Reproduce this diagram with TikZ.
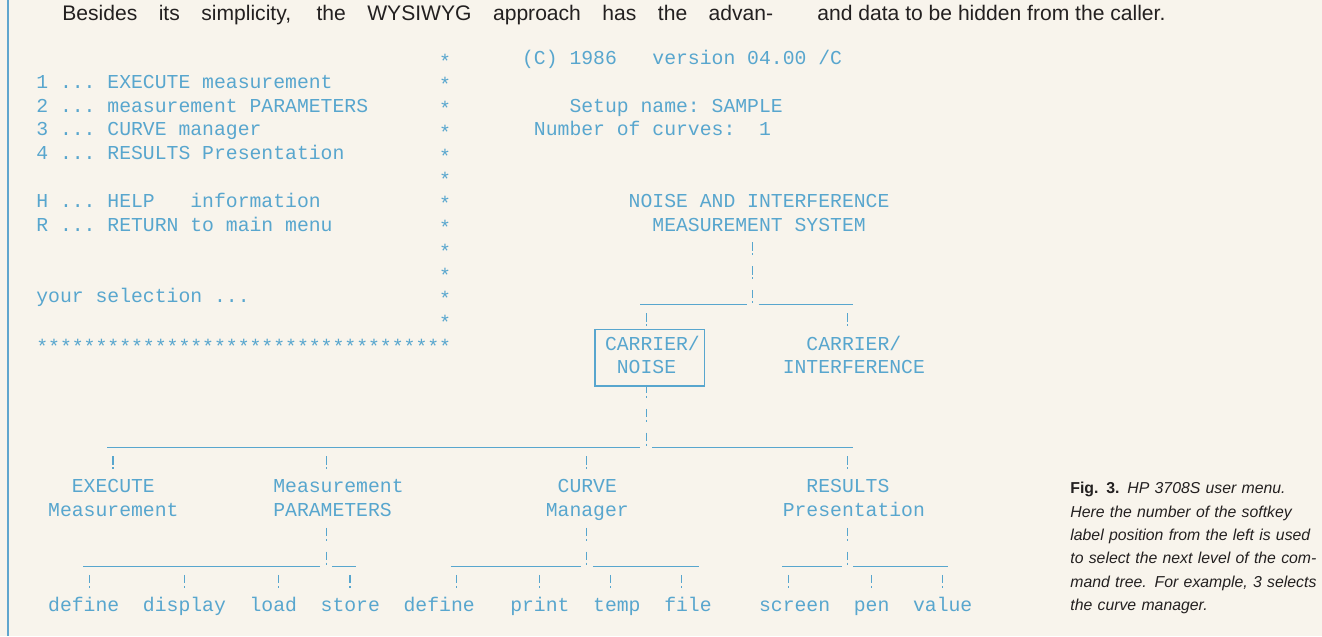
\documentclass[tikz,border=0pt]{standalone}
\usepackage{fontspec}
\setmainfont{Liberation Sans}
\newfontfamily\scrfont{Liberation Mono}
\usetikzlibrary{calc,fit}

\definecolor{paper}{RGB}{248,244,236}
\definecolor{scrblue}{RGB}{88,166,206}
\definecolor{railblue}{RGB}{96,166,206}
\definecolor{ink}{RGB}{35,32,32}

\tikzset{
  scr/.style={font=\scrfont\fontsize{11.24}{13.5}\selectfont\frenchspacing, text=scrblue,
    anchor=base west, inner sep=0pt, text height=0.26cm, text depth=0pt, yshift=-0.13cm},
  star/.style={scr, yshift=-0.07cm},
  bang/.style={draw=scrblue, line width=0.65pt,
    dash pattern=on 0.17cm off 0.05cm on 0.04cm off 0.216cm, dash phase=0.26cm},
  bangbar/.style={bang, dash phase=0.31cm},
  bar/.style={draw=scrblue, line width=0.6pt},
  cbox/.style={draw=scrblue, line width=0.9pt, inner xsep=0.142cm, inner ysep=0.19cm,
    xshift=-0.054cm, yshift=-0.05cm},
  body/.style={anchor=base west, inner sep=0pt, text=ink, font=\fontsize{12}{14}\selectfont},
  caption/.style={anchor=north west, inner sep=0pt, text=ink, text width=4.84cm, align=left,
    font=\fontsize{9}{13.27}\selectfont\itshape}
}

\begin{document}
\begin{tikzpicture}[x=0.02cm, y=-0.02cm]
  \useasboundingbox (0,0) rectangle (1322,636);
  \fill[paper] (0,0) rectangle (1322,636);
  \draw[railblue, line width=0.06cm] (8,0) -- (8,636);

  % running text and caption
  \node[body] (hd1) at (62,20) {\makebox[14.22cm][s]{Besides its simplicity, the WYSIWYG approach has the advan-}};
  \node[body] (hd2) at (817,20) {and data to be hidden from the caller.};
  \node[caption] (cap) at (1070,482) {%
    \makebox[\linewidth][s]{\textbf{\upshape Fig. 3.} HP 3708S user menu.}\\
    \makebox[\linewidth][s]{Here the number of the softkey}\\
    \makebox[\linewidth][s]{label position from the left is used}\\
    \makebox[\linewidth][s]{to select the next level of the com-}\\
    \makebox[\linewidth][s]{mand tree. For example, 3 selects}\\
    the curve manager.};

  % screen, one unit = one character cell
  \begin{scope}[shift={(36,58)}, x=0.237cm, y=-0.476cm]
    % main menu
    \node[scr] (m1) at (0,1) {1 ... EXECUTE measurement};
    \node[scr] (m2) at (0,2) {2 ... measurement PARAMETERS};
    \node[scr] (m3) at (0,3) {3 ... CURVE manager};
    \node[scr] (m4) at (0,4) {4 ... RESULTS Presentation};
    \node[scr] (mh) at (0,6) {H ... HELP~~~information};
    \node[scr] (mr) at (0,7) {R ... RETURN to main menu};
    \node[scr] (sel) at (0,10) {your selection ...};
    \foreach \r in {0,...,11}
      \node[star] (st\r) at (34,\r) {*};
    \node[star] (stb) at (0,12) {***********************************};

    % status
    \node[scr] (copy) at (41,0) {(C) 1986~~~version 04.00 /C};
    \node[scr] (setup) at (45,2) {Setup name: SAMPLE};
    \node[scr] (ncurv) at (42,3) {Number of curves:~~1};

    % command tree
    \node[scr] (nims1) at (50,6) {NOISE AND INTERFERENCE};
    \node[scr] (nims2) at (52,7) {MEASUREMENT SYSTEM};
    \node[scr] (cn1) at (48,12) {CARRIER/};
    \node[scr] (cn2) at (49,13) {NOISE};
    \node[cbox, fit=(cn1)(cn2)] (cnbox) {};
    \node[scr] (ci1) at (65,12) {CARRIER/};
    \node[scr] (ci2) at (63,13) {INTERFERENCE};

    \node[scr] (exe1) at (3,18) {EXECUTE};
    \node[scr] (exe2) at (1,19) {Measurement};
    \node[scr] (mp1) at (20,18) {Measurement};
    \node[scr] (mp2) at (20,19) {PARAMETERS};
    \node[scr] (cv1) at (44,18) {CURVE};
    \node[scr] (cv2) at (43,19) {Manager};
    \node[scr] (rp1) at (65,18) {RESULTS};
    \node[scr] (rp2) at (63,19) {Presentation};

    \node[scr] (mdef) at (1,23) {define};
    \node[scr] (mdisp) at (9,23) {display};
    \node[scr] (mload) at (18,23) {load};
    \node[scr] (mstore) at (24,23) {store};
    \node[scr] (cdef) at (31,23) {define};
    \node[scr] (cprint) at (40,23) {print};
    \node[scr] (ctemp) at (47,23) {temp};
    \node[scr] (cfile) at (53,23) {file};
    \node[scr] (rscreen) at (61,23) {screen};
    \node[scr] (rpen) at (69,23) {pen};
    \node[scr] (rvalue) at (74,23) {value};

    % top level
    \coordinate (tbl) at (51,10.378);
    \coordinate (tbj) at (60.5,10.378);
    \coordinate (tbr) at (69,10.378);
    \draw[bang] (nims2.south -| tbj) -- (tbj);
    \draw[bar] (tbl) -- ($(tbj)+(-0.5,0)$) ($(tbj)+(0.5,0)$) -- (tbr);
    \coordinate (tbcn) at (51.5,10.378);
    \coordinate (tbci) at (68.5,10.378);
    \draw[bangbar] (tbcn) -- (tbcn |- cn1.north);
    \draw[bangbar] (tbci) -- (tbci |- ci1.north);

    % carrier/noise menu
    \coordinate (mbl) at (6,16.378);
    \coordinate (mbj) at (51.5,16.378);
    \coordinate (mbr) at (69,16.378);
    \draw[bang] (cn2.south -| mbj) -- (mbj);
    \draw[bar] (mbl) -- ($(mbj)+(-0.5,0)$) ($(mbj)+(0.5,0)$) -- (mbr);
    \foreach \c/\n in {6.5/exe1, 24.5/mp1, 46.5/cv1, 68.5/rp1} {
      \coordinate (\n-j) at (\c,16.378);
      \draw[bangbar] (\n-j) -- (\n-j |- \n.north);
    }

    % sub menus
    \foreach \p/\l/\j/\r in {mp2/4/24.5/27, cv2/35/46.5/56, rp2/63/68.5/77} {
      \coordinate (\p-l) at (\l,21.378);
      \coordinate (\p-j) at (\j,21.378);
      \coordinate (\p-r) at (\r,21.378);
      \draw[bang] (\p.south -| \p-j) -- (\p-j);
      \draw[bar] (\p-l) -- ($(\p-j)+(-0.5,0)$) ($(\p-j)+(0.5,0)$) -- (\p-r);
    }
    \foreach \c/\n in {4.5/mdef, 12.5/mdisp, 20.5/mload, 26.5/mstore,
                      35.5/cdef, 42.5/cprint, 48.5/ctemp, 54.5/cfile,
                      63.5/rscreen, 70.5/rpen, 76.5/rvalue} {
      \coordinate (\n-j) at (\c,21.378);
      \draw[bangbar] (\n-j) -- (\n-j |- \n.north);
    }
  \end{scope}
\end{tikzpicture}
\end{document}
